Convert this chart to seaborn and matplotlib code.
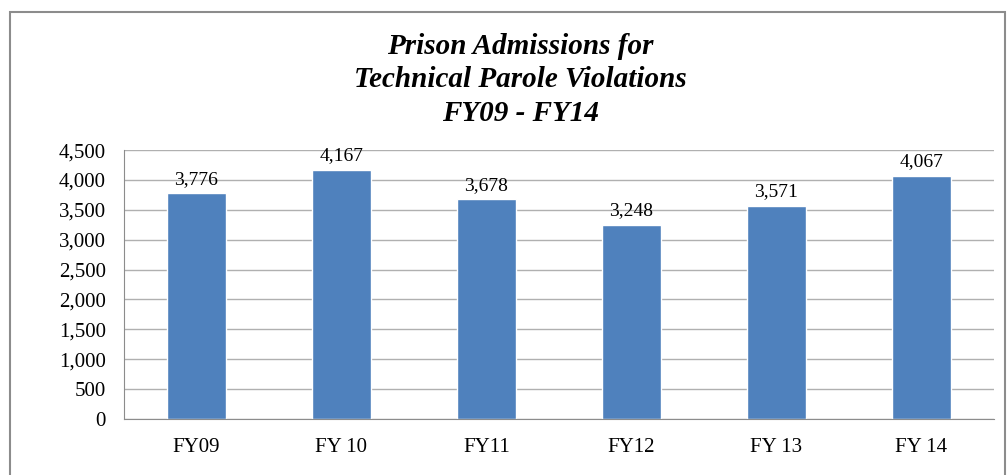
import matplotlib
matplotlib.use("Agg")
import matplotlib.pyplot as plt
import seaborn as sns
import pandas as pd
from matplotlib.patches import Rectangle

# Daten
years = ["FY09", "FY 10", "FY11", "FY12", "FY 13", "FY 14"]
admissions = [3776, 4167, 3678, 3248, 3571, 4067]
yticks = [0, 500, 1000, 1500, 2000, 2500, 3000, 3500, 4000, 4500]

df = pd.DataFrame({"year": years, "admissions": admissions})

sns.set_style("white")
plt.rcParams['font.family'] = ['Liberation Serif', 'DejaVu Serif']
plt.rcParams['text.color'] = 'black'
plt.rcParams['xtick.color'] = 'black'
plt.rcParams['ytick.color'] = 'black'

fig = plt.figure(figsize=(10.08, 4.75), dpi=100)
ax = fig.add_axes([0.123, 0.118, 0.863, 0.566])

sns.barplot(data=df, x="year", y="admissions", order=years, color="#4F81BD",
            saturation=1, width=0.41, ax=ax)

ax.set_xlim(-0.5, len(years) - 0.5)
ax.set_ylim(0, 4500)
ax.set_yticks(yticks)
ax.set_yticklabels([f"{v:,}" for v in yticks], fontsize=15)
ax.set_xticks(range(len(years)))
ax.set_xticklabels(years, fontsize=15)
ax.set_xlabel("")
ax.set_ylabel("")

# Gitter und Achsen
ax.grid(axis="y", color="#b0b0b0", linewidth=1)
ax.set_axisbelow(True)
for side in ["top", "right"]:
    ax.spines[side].set_visible(False)
for side in ["left", "bottom"]:
    ax.spines[side].set_color("#8c8c8c")
ax.tick_params(axis="y", length=7, color="#8c8c8c", pad=6)
ax.tick_params(axis="x", which="major", length=0, pad=14)
ax.set_xticks([i - 0.5 for i in range(len(years) + 1)], minor=True)
ax.tick_params(axis="x", which="minor", length=6, color="#8c8c8c")

# Werte ueber den Balken
ax.bar_label(ax.containers[0], labels=[f"{v:,}" for v in admissions],
             fontsize=14, padding=4, color="black")

# Titel
fig.text(0.516, 0.832, "Prison Admissions for\nTechnical Parole Violations\nFY09 - FY14",
         ha="center", va="center", fontsize=21, fontweight="bold",
         fontstyle="italic", linespacing=1.3, color="black")

# Rahmen
fig.patches.append(Rectangle((0.010, -0.05), 0.987, 1.025, transform=fig.transFigure,
                             fill=False, edgecolor="#8c8c8c", linewidth=1.5))

fig.savefig("out.png", dpi=100)
